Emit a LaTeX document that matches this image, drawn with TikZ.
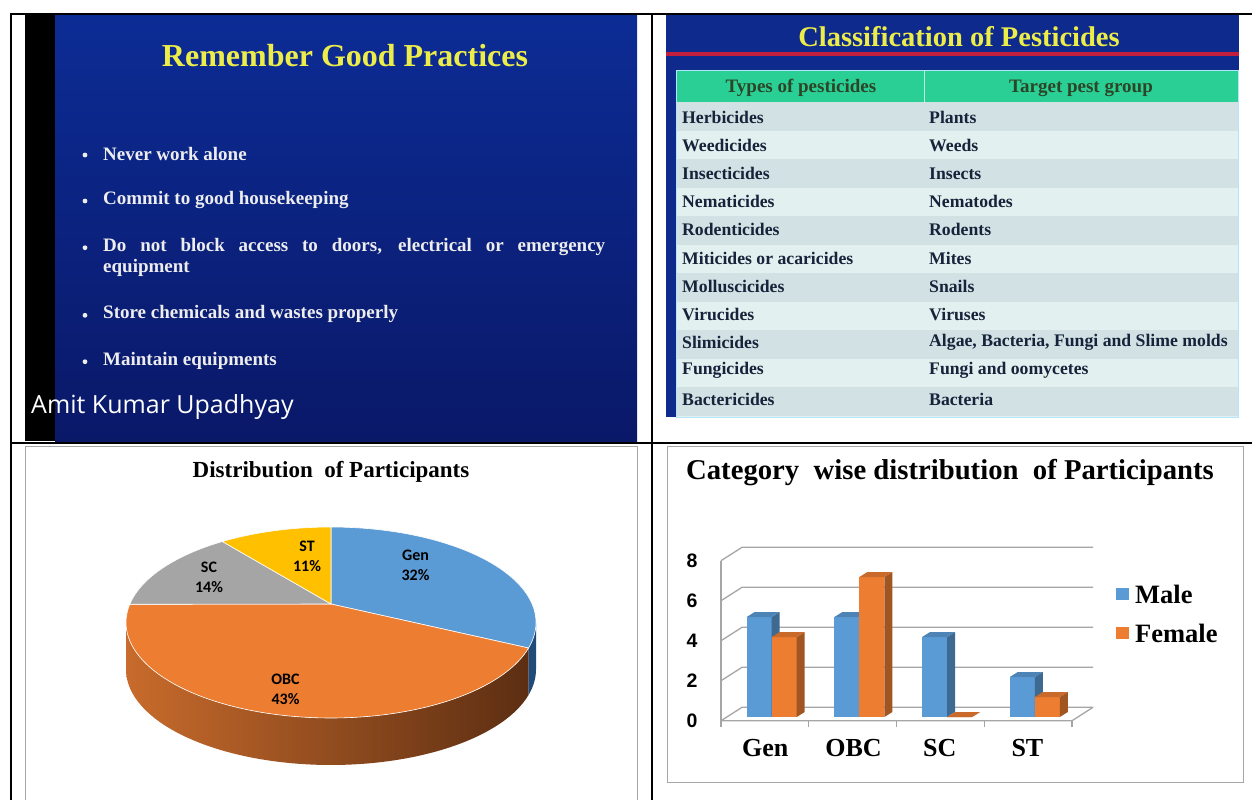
\documentclass[tikz,border=0pt]{standalone}
\usepackage{fontspec}
\setmainfont{Liberation Serif}
\newfontfamily\calibfont{Carlito}
\newfontfamily\arialfont{Liberation Sans}
\newfontfamily\capfont{Open Sans}
\usetikzlibrary{positioning}
\usetikzlibrary{calc}

\definecolor{slidetop}{HTML}{0C2C95}
\definecolor{slidemid}{HTML}{1444B3}
\definecolor{slidebot}{HTML}{0A1868}
\definecolor{slideblue}{HTML}{0E2A8C}
\definecolor{slideyellow}{HTML}{EDED4A}
\definecolor{slidered}{HTML}{C21F3F}
\definecolor{headgreen}{HTML}{2ACF95}
\definecolor{rowA}{HTML}{D2E2E4}
\definecolor{rowB}{HTML}{E2F0F0}
\definecolor{rowtext}{HTML}{16233A}
\definecolor{headtext}{HTML}{2C4526}
\definecolor{genc}{HTML}{5B9BD5}
\definecolor{obcc}{HTML}{ED7D31}
\definecolor{scc}{HTML}{A5A5A5}
\definecolor{stc}{HTML}{FFC000}
\definecolor{genside}{HTML}{1F4B78}
\definecolor{obcL}{HTML}{C86B2C}
\definecolor{obcR}{HTML}{5C2E12}
\definecolor{gridgray}{HTML}{A6A6A6}

\tikzset{
	slidetitle/.style={text=slideyellow, font=\bfseries\fontsize{32}{32}\selectfont},
	bullettext/.style={anchor=west, inner sep=0pt, text=white!93!black, font=\bfseries\fontsize{19}{22}\selectfont},
	bulletdot/.style={circle, fill=white!93!black, inner sep=1.7pt},
	celltext/.style={anchor=west, inner sep=0pt, text=rowtext, font=\bfseries\fontsize{17.7}{20}\selectfont},
	headcell/.style={inner sep=0pt, text=headtext, font=\bfseries\fontsize{19}{20}\selectfont},
	pielabel/.style={align=center, inner sep=0pt, font=\calibfont\bfseries\fontsize{16}{20}\selectfont},
	charttitle/.style={inner sep=0pt, font=\bfseries},
	grid/.style={gridgray, line width=1.3pt},
	ylab/.style={inner sep=0pt, font=\arialfont\bfseries\fontsize{19.5}{19.5}\selectfont},
	xlab/.style={inner sep=0pt, font=\bfseries\fontsize{26}{26}\selectfont},
	legtext/.style={anchor=west, inner sep=0pt, font=\bfseries\fontsize{26.5}{26.5}\selectfont}
}

\begin{document}
\begin{tikzpicture}[x=1pt, y=-1pt]
	\useasboundingbox (0,0) rectangle (1252,800);
	\fill[white] (0,0) rectangle (1252,800);

	% top left: slide
	\fill[black] (25,13) rectangle (55,441);
	\shade[top color=slidetop, middle color=slidemid, bottom color=slidebot] (55,15) rectangle (637,441);
	\node[slidetitle] (goodtitle) at (345,56) {Remember Good Practices};

	\foreach \y/\txt/\name in {154/Never work alone/never, 200/Commit to good housekeeping/commit, 314.3/Store chemicals and wastes properly/store, 360.7/Maintain equipments/maintain}{
		\node[bullettext] (\name) at (103,\y) {\txt};
		\node[bulletdot] (\name dot) at (85,\y+1) {};
	}
	\node[bullettext] (block) at (103,246.7) {\makebox[502pt][s]{Do not block access to doors, electrical or emergency}};
	\node[bulletdot] (block dot) at (85,247.7) {};
	\node[bullettext] (equip) at (103,268.3) {equipment};
	\node[anchor=west, inner sep=0pt, text=white, font=\capfont\fontsize{25}{25}\selectfont] (author) at (31,407) {Amit Kumar Upadhyay};

	% top right: table slide
	\fill[slideblue] (666,15) rectangle (1239,417);
	\fill[slidered] (666,51.7) rectangle (1239,56.5);
	\node[slidetitle, font=\bfseries\fontsize{28.5}{28.5}\selectfont] (pesttitle) at (959,37) {Classification of Pesticides};
	\fill[headgreen] (676,70) rectangle (1238,101.5);
	\draw[white!70!headgreen, line width=1pt] (924,70) -- (924,101.5);
	\fill[rowB] (676,101.5) rectangle (1238,417);
	\foreach \n in {0,2,...,10}
		\fill[rowA] (676,102+28.5*\n) rectangle (1238,130.5+28.5*\n);
	\draw[cyan!30!white, line width=0.8pt] (676,70) rectangle (1238,417);
	\node[headcell] (typehead) at (801,88) {Types of pesticides};
	\node[headcell] (grouphead) at (1081,88) {Target pest group};

	\foreach \n/\a/\b in {0/Herbicides/Plants, 1/Weedicides/Weeds, 2/Insecticides/Insects, 3/Nematicides/Nematodes, 4/Rodenticides/Rodents, 5/Miticides or acaricides/Mites, 6/Molluscicides/Snails, 7/Virucides/Viruses, 8/Slimicides/{Algae, Bacteria, Fungi and Slime molds}, 9/Fungicides/Fungi and oomycetes, 10/Bactericides/Bacteria}{
		\node[celltext] (type\n) at (682,117+28.2*\n) {\a};
		\node[celltext] (group\n) at (929,117+28.2*\n) {\b};
	}

	% bottom left: pie chart
	\draw[gray!70, line width=0.8pt] (25,800) -- (25,446) -- (637,446) -- (637,800);
	\node[charttitle, font=\bfseries\fontsize{23}{23}\selectfont] (pietitle) at (331,471.5) {Distribution\ \ of Participants};

	\def\cx{331}
	\def\cy{622.5}
	\def\rx{205}
	\def\ry{95.5}
	\def\dep{47}
	\coordinate (apex) at (331,604);

	\shade[left color=obcL, right color=obcR] plot[domain=15.5:180, samples=60] ({\cx+\rx*cos(\x)},{\cy+\ry*sin(\x)}) -- plot[domain=180:15.5, samples=60] ({\cx+\rx*cos(\x)},{\cy+\dep+\ry*sin(\x)}) -- cycle;
	\fill[genside] plot[domain=0:15.5, samples=10] ({\cx+\rx*cos(\x)},{\cy+\ry*sin(\x)}) -- plot[domain=15.5:0, samples=10] ({\cx+\rx*cos(\x)},{\cy+\dep+\ry*sin(\x)}) -- cycle;

	\filldraw[fill=genc, draw=white, line width=0.6pt] (apex) -- plot[domain=270:375.5, samples=50] ({\cx+\rx*cos(\x)},{\cy+\ry*sin(\x)}) -- cycle;
	\filldraw[fill=obcc, draw=white, line width=0.6pt] (apex) -- plot[domain=15.5:191, samples=80] ({\cx+\rx*cos(\x)},{\cy+\ry*sin(\x)}) -- cycle;
	\filldraw[fill=scc, draw=white, line width=0.6pt] (apex) -- plot[domain=191:238, samples=25] ({\cx+\rx*cos(\x)},{\cy+\ry*sin(\x)}) -- cycle;
	\filldraw[fill=stc, draw=white, line width=0.6pt] (apex) -- plot[domain=238:270, samples=20] ({\cx+\rx*cos(\x)},{\cy+\ry*sin(\x)}) -- cycle;

	\node[pielabel] (genlab) at (415.5,565.5) {Gen\\32\%};
	\node[pielabel] (stlab) at (307,556.5) {ST\\11\%};
	\node[pielabel] (sclab) at (209,577) {SC\\14\%};
	\node[pielabel] (obclab) at (285.5,689) {OBC\\43\%};

	% bottom right: bar chart
	\draw[gray!70, line width=0.8pt] (667,446) rectangle (1243,782);
	\node[charttitle, font=\bfseries\fontsize{28.7}{28.7}\selectfont] (bartitle) at (950,473) {Category\ \ wise distribution\ \ of Participants};

	\foreach \v in {0,2,...,8}{
		\draw[grid] (721,720.7-20*\v) -- (742,707.3-20*\v) -- (1093,707.3-20*\v);
		\node[ylab] (y\v) at (692,720.7-20*\v) {\v};
	}
	\draw[grid] (721,560.7) -- (721,727);
	\draw[grid] (721,720.7) -- (1072,720.7) -- (1093,707.3);
	\foreach \k in {1,...,4}
		\draw[grid] (721+87.75*\k,720.7) -- ++(0,6);

	\foreach \i/\v/\c in {0/5/genc, 1/4/obcc, 2/5/genc, 3/7/obcc, 4/4/genc, 5/0/obcc, 6/2/genc, 7/1/obcc}{
		\pgfmathsetmacro\bx{746.7+floor(\i/2)*87.7+mod(\i,2)*25}
		\pgfmathsetmacro\by{717-20*\v}
		\fill[\c] (\bx,717) rectangle (\bx+25,\by);
		\fill[\c!68!black] (\bx+25,717) -- (\bx+33,712) -- (\bx+33,\by-5) -- (\bx+25,\by) -- cycle;
		\fill[\c!85!black] (\bx,\by) -- (\bx+8,\by-5) -- (\bx+33,\by-5) -- (\bx+25,\by) -- cycle;
	}

	\foreach \x/\name in {765.2/Gen, 853.5/OBC, 939.8/SC, 1027.4/ST}
		\node[xlab] (\name lab) at (\x,748.3) {\name};

	\fill[genc] (1116,588) rectangle (1129,600);
	\node[legtext] (male) at (1135,594) {Male};
	\fill[obcc] (1116,627) rectangle (1129,639);
	\node[legtext] (female) at (1135,633) {Female};

	% table lines
	\draw[line width=2pt] (10,14) -- (1252,14);
	\draw[line width=2pt] (11,14) -- (11,800);
	\draw[line width=2pt] (651.7,14) -- (651.7,800);
	\draw[line width=2pt] (10,442.5) -- (1252,442.5);
\end{tikzpicture}
\end{document}
